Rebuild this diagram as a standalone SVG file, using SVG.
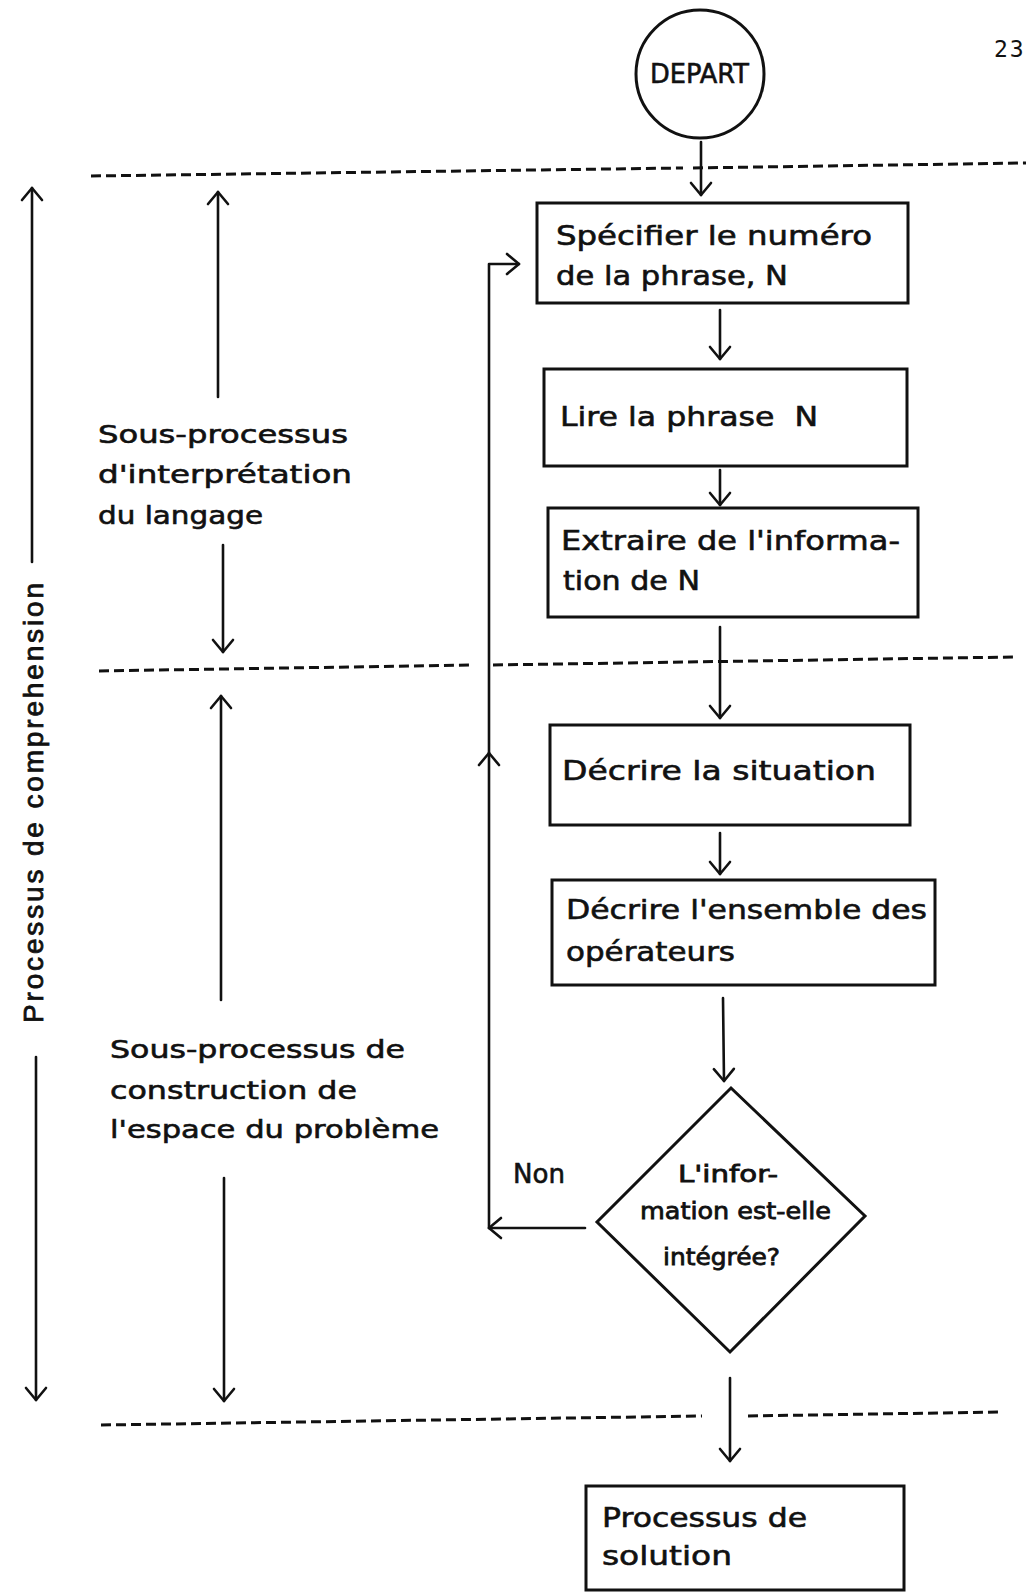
<svg xmlns="http://www.w3.org/2000/svg" width="1029" height="1593" viewBox="0 0 1029 1593">
  <style>
    .bg { fill: #ffffff; }
    .box { fill: none; stroke: #111; stroke-width: 3; }
    .ln { fill: none; stroke: #111; stroke-width: 2.6; stroke-linecap: round; stroke-linejoin: round; }
    .dash { fill: none; stroke: #111; stroke-width: 3; stroke-dasharray: 10 5; }
    .t { font-family: "DejaVu Sans", "Liberation Sans", sans-serif; font-size: 27px; fill: #111; stroke: #111; stroke-width: 0.6; white-space: pre; }
    .side { font-size: 25px; }
    .dia { font-size: 23px; stroke-width: 0.8; }
    .rot { font-family: "Liberation Sans", Arial, sans-serif; font-size: 28px; fill: #111; stroke: #111; stroke-width: 0.8; }
    .pg { font-family: "DejaVu Sans Mono", monospace; font-size: 23px; fill: #111; }
  </style>
  <defs>
    <marker id="v" viewBox="-14 -12 16 24" refX="0" refY="0" markerWidth="16" markerHeight="24" markerUnits="userSpaceOnUse" orient="auto">
      <path d="M-12,-10 L0,0 L-12,10" fill="none" stroke="#111" stroke-width="2.6" stroke-linecap="round" stroke-linejoin="round"/>
    </marker>
  </defs>

  <rect class="bg" x="0" y="0" width="1029" height="1593"/>

  <!-- page number -->
  <text class="pg" x="994" y="57" letter-spacing="2">23</text>

  <!-- phase separators -->
  <g id="separators">
    <path class="dash" d="M91,176 L683,168 M693,168 L1026,163"/>
    <path class="dash" d="M99,671 L472,665 M493,665 L1013,657"/>
    <path class="dash" d="M101,1425 L702,1416 M748,1416 L1000,1412"/>
  </g>

  <!-- left annotations: process extents -->
  <g id="comprehension">
    <text class="rot" transform="translate(43,1023) rotate(-90)" x="0" y="0" textLength="440" lengthAdjust="spacing">Processus de comprehension</text>
  </g>
  <g id="interpretation">
    <text class="t side" x="98" y="443" textLength="250" lengthAdjust="spacingAndGlyphs">Sous-processus</text>
    <text class="t side" x="98" y="483" textLength="254" lengthAdjust="spacingAndGlyphs">d'interprétation</text>
    <text class="t side" x="98" y="524" textLength="165" lengthAdjust="spacingAndGlyphs">du langage</text>
  </g>
  <g id="construction">
    <text class="t side" x="110" y="1058" textLength="295" lengthAdjust="spacingAndGlyphs">Sous-processus de</text>
    <text class="t side" x="110" y="1099" textLength="247" lengthAdjust="spacingAndGlyphs">construction de</text>
    <text class="t side" x="110" y="1138" textLength="329" lengthAdjust="spacingAndGlyphs">l'espace du problème</text>
  </g>

  <!-- flow nodes -->
  <g id="depart">
    <circle class="box" cx="700" cy="74" r="64"/>
    <text class="t" x="650" y="83" textLength="99" lengthAdjust="spacingAndGlyphs">DEPART</text>
  </g>
  <g id="specifier">
    <rect class="box" x="537" y="203" width="371" height="100"/>
    <text class="t" x="556" y="245" textLength="316" lengthAdjust="spacingAndGlyphs">Spécifier le numéro</text>
    <text class="t" x="556" y="285" textLength="232" lengthAdjust="spacingAndGlyphs">de la phrase, N</text>
  </g>
  <g id="lire">
    <rect class="box" x="544" y="369" width="363" height="97"/>
    <text class="t" x="560" y="426" textLength="258" lengthAdjust="spacingAndGlyphs">Lire la phrase  N</text>
  </g>
  <g id="extraire">
    <rect class="box" x="548" y="508" width="370" height="109"/>
    <text class="t" x="561" y="550" textLength="339" lengthAdjust="spacingAndGlyphs">Extraire de l'informa-</text>
    <text class="t" x="563" y="590" textLength="137" lengthAdjust="spacingAndGlyphs">tion de N</text>
  </g>
  <g id="situation">
    <rect class="box" x="550" y="725" width="360" height="100"/>
    <text class="t" x="562" y="780" textLength="314" lengthAdjust="spacingAndGlyphs">Décrire la situation</text>
  </g>
  <g id="operateurs">
    <rect class="box" x="552" y="880" width="383" height="105"/>
    <text class="t" x="566" y="919" textLength="361" lengthAdjust="spacingAndGlyphs">Décrire l'ensemble des</text>
    <text class="t" x="566" y="961" textLength="169" lengthAdjust="spacingAndGlyphs">opérateurs</text>
  </g>
  <g id="integree">
    <polygon class="box" points="731,1088 865,1216 730,1352 597,1222"/>
    <text class="t dia" x="678" y="1182" textLength="100" lengthAdjust="spacingAndGlyphs">L'infor-</text>
    <text class="t dia" x="640" y="1219" textLength="191" lengthAdjust="spacingAndGlyphs">mation est-elle</text>
    <text class="t dia" x="663" y="1265" textLength="117" lengthAdjust="spacingAndGlyphs">intégrée?</text>
  </g>
  <g id="solution">
    <rect class="box" x="586" y="1486" width="318" height="104"/>
    <text class="t" x="602" y="1527" textLength="205" lengthAdjust="spacingAndGlyphs">Processus de</text>
    <text class="t" x="602" y="1565" textLength="130" lengthAdjust="spacingAndGlyphs">solution</text>
  </g>

  <!-- connectors -->
  <g id="connectors">
    <path class="ln" d="M701,142 L701,195" marker-end="url(#v)"/>
    <path class="ln" d="M720,310 L720,359" marker-end="url(#v)"/>
    <path class="ln" d="M720,470 L720,505" marker-end="url(#v)"/>
    <path class="ln" d="M720,627 L720,718" marker-end="url(#v)"/>
    <path class="ln" d="M720,833 L720,874" marker-end="url(#v)"/>
    <path class="ln" d="M723,998 L724,1081" marker-end="url(#v)"/>
    <path class="ln" d="M730,1378 L730,1461" marker-end="url(#v)"/>
    <!-- "Non" return loop back to the sentence counter -->
    <path class="ln" d="M585,1228 L489,1228" marker-end="url(#v)"/>
    <path class="ln" d="M489,1228 L489,753" marker-end="url(#v)"/>
    <path class="ln" d="M489,753 L489,264 L519,264" marker-end="url(#v)"/>
    <!-- extent arrows for the side annotations -->
    <path class="ln" d="M32,562 L32,188" marker-end="url(#v)"/>
    <path class="ln" d="M36,1057 L36,1400" marker-end="url(#v)"/>
    <path class="ln" d="M218,397 L218,192" marker-end="url(#v)"/>
    <path class="ln" d="M223,545 L223,652" marker-end="url(#v)"/>
    <path class="ln" d="M221,1000 L221,696" marker-end="url(#v)"/>
    <path class="ln" d="M224,1178 L224,1401" marker-end="url(#v)"/>
  </g>
  <text class="t" x="513" y="1183" textLength="52" lengthAdjust="spacingAndGlyphs">Non</text>
</svg>
